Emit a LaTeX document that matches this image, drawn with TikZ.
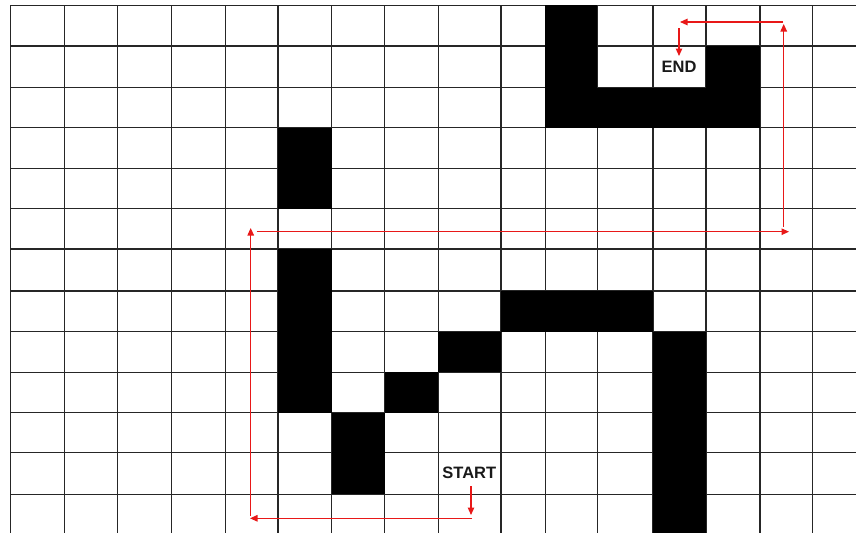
\documentclass[tikz,border=0pt]{standalone}
\usepackage{fontspec}
\setmainfont{Liberation Sans}
\usetikzlibrary{arrows.meta}
\definecolor{pathred}{RGB}{232,24,24}
\tikzset{
  gridline/.style={line width=1.2pt, draw=black!85},
  cell/.style={fill=black},
  route/.style={draw=pathred, line width=1.1pt, -{Triangle[length=7.5pt,width=6.5pt]}},
  lbl/.style={font=\bfseries\fontsize{16.5}{18}\selectfont, inner sep=0pt, text=black!90}
}
\begin{document}
\begin{tikzpicture}[x=1pt,y=-1pt]
\fill[white] (0,0) rectangle (856,533);
\useasboundingbox (0,0) rectangle (856,533);
% grid
\foreach \x in {10.7,64.3,117.3,171.3,225.3,278,331.7,384.7,438.3,501,545.3,597.3,653,706,760,812.7}
  \draw[gridline] (\x,5.3) -- (\x,533);
\foreach \y in {5.3,46,87.7,127.7,168.3,208.7,249,291,331.7,372.3,412.7,452.7,494.3}
  \draw[gridline] (10.7,\y) -- (856,\y);
% black cells
\fill[cell] (545.3,5.3) rectangle (597.3,127.7);
\fill[cell] (545.3,87.7) rectangle (760,127.7);
\fill[cell] (706,46) rectangle (760,87.7);
\fill[cell] (278,127.7) rectangle (331.7,208.7);
\fill[cell] (278,249) rectangle (331.7,412.7);
\fill[cell] (331.7,412.7) rectangle (384.7,494.3);
\fill[cell] (384.7,372.3) rectangle (438.3,412.7);
\fill[cell] (438.3,331.7) rectangle (501,372.3);
\fill[cell] (501,291) rectangle (653,331.7);
\fill[cell] (653,331.7) rectangle (706,533);
% labels
\node[lbl] (start) at (469.3,473.3) {START};
\node[lbl] (end) at (679,66.7) {END};
% route coordinates
\coordinate (s0) at (471,486);
\coordinate (s1) at (471,515);
\coordinate (h0) at (472,518.3);
\coordinate (h1) at (250,518.3);
\coordinate (v0) at (250.7,516);
\coordinate (v1) at (250.7,228);
\coordinate (k0) at (256.7,231.7);
\coordinate (k1) at (789,231.7);
\coordinate (u0) at (783.7,226.7);
\coordinate (u1) at (783.7,24);
\coordinate (t0) at (783,22);
\coordinate (t1) at (680,22);
\coordinate (d0) at (679,28);
\coordinate (d1) at (679,56);
\draw[route] (s0) -- (s1);
\draw[route] (h0) -- (h1);
\draw[route] (v0) -- (v1);
\draw[route] (k0) -- (k1);
\draw[route] (u0) -- (u1);
\draw[route] (t0) -- (t1);
\draw[route] (d0) -- (d1);
\end{tikzpicture}
\end{document}
